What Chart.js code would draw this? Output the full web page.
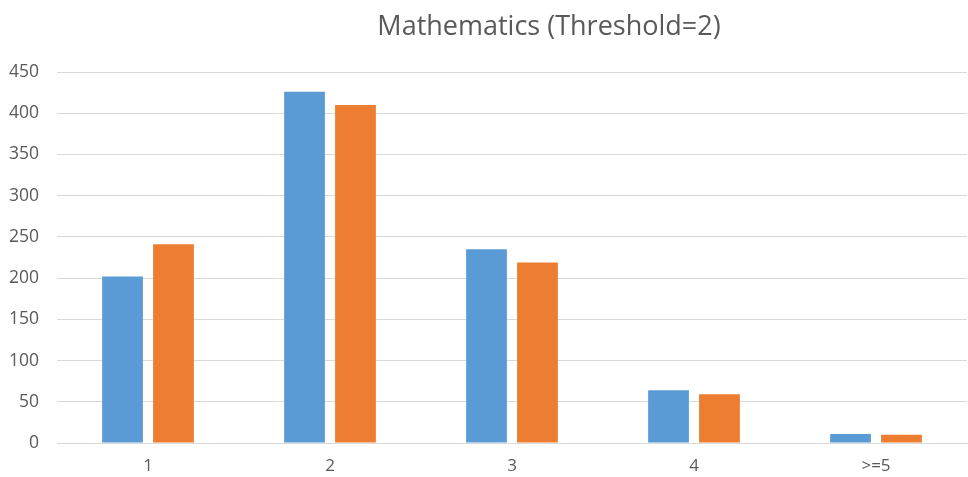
<!DOCTYPE html>
<html>
<head>
<meta charset="utf-8">
<script src="https://cdn.jsdelivr.net/npm/chart.js@4/dist/chart.umd.min.js"></script>
<style>
html,body{margin:0;padding:0;background:#fff;}
#wrap{width:968px;height:477px;position:relative;}
</style>
</head>
<body>
<div id="wrap"><canvas id="c" width="968" height="477"></canvas></div>
<script>
const titleText = "Mathematics (Threshold=2)";
const categories = ["1", "2", "3", "4", ">=5"];
const seriesA = [202, 426, 235, 64, 11];
const seriesB = [241, 410, 219, 59, 10];
const yTicks = [0, 50, 100, 150, 200, 250, 300, 350, 400, 450];

const FONT = "'Open Sans', 'Liberation Sans', sans-serif";
const TXT = "#595959";

const titlePlugin = {
  id: 'customTitle',
  afterDraw(chart) {
    const ctx = chart.ctx;
    ctx.save();
    ctx.font = "27px " + FONT;
    ctx.fillStyle = TXT;
    ctx.textAlign = "center";
    ctx.textBaseline = "middle";
    ctx.fillText(titleText, 549, 27);
    ctx.restore();
  }
};

new Chart(document.getElementById('c'), {
  type: 'bar',
  data: {
    labels: categories,
    datasets: [
      { label: "A", data: seriesA, backgroundColor: "#5B9BD5", borderWidth: 0 },
      { label: "B", data: seriesB, backgroundColor: "#ED7D31", borderWidth: 0 }
    ]
  },
  options: {
    responsive: false,
    animation: false,
    devicePixelRatio: 1,
    layout: { padding: { top: 72, right: 1, left: 0, bottom: 0 } },
    plugins: { legend: { display: false }, title: { display: false }, tooltip: { enabled: false } },
    datasets: { bar: { categoryPercentage: 0.56, barPercentage: 0.8 } },
    scales: {
      x: {
        afterFit(scale) { scale.height = 34; },
        grid: { display: false, drawTicks: false },
        border: { display: true, color: "#d9d9d9", width: 1 },
        ticks: { color: TXT, font: { family: FONT, size: 17 }, padding: 13 }
      },
      y: {
        min: 0, max: 450,
        afterBuildTicks(scale) { scale.ticks = yTicks.map(v => ({ value: v })); },
        afterFit(scale) { scale.width = 57; },
        grid: { color: "#d9d9d9", lineWidth: 1, drawTicks: false },
        border: { display: false },
        ticks: { color: TXT, font: { family: FONT, size: 17.5 }, padding: 18 }
      }
    }
  },
  plugins: [titlePlugin]
});
</script>
</body>
</html>
